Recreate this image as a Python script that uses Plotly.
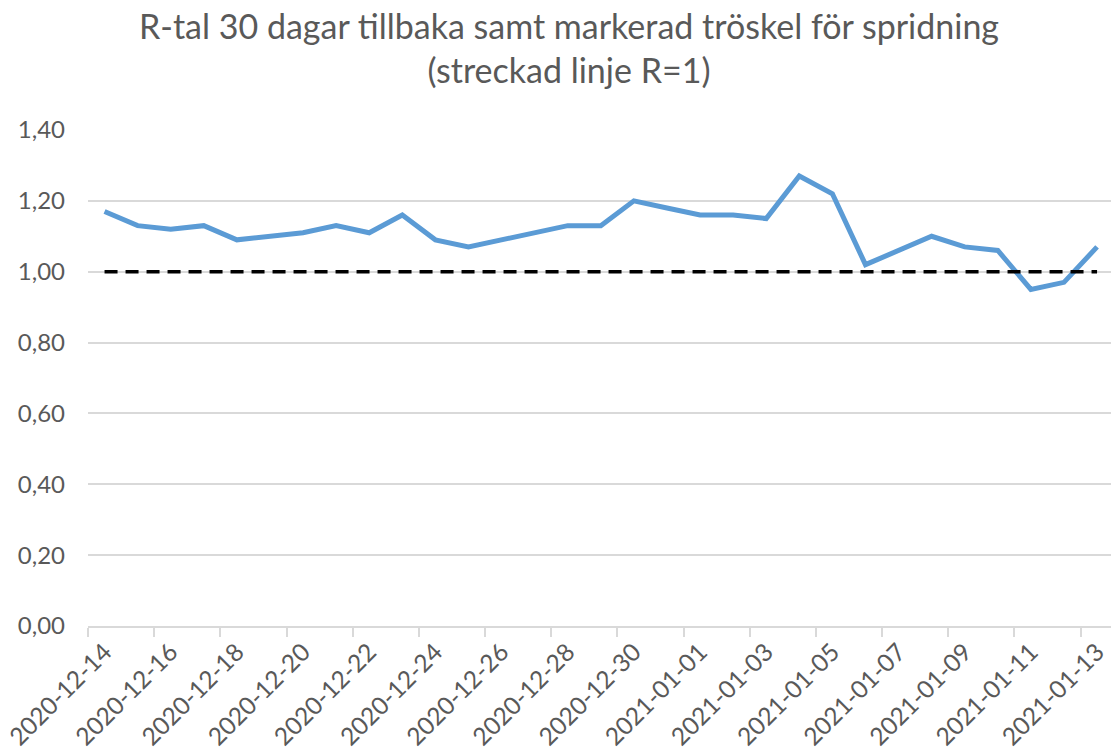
import plotly.graph_objects as go

dates = [
    "2020-12-14", "2020-12-15", "2020-12-16", "2020-12-17", "2020-12-18", "2020-12-19",
    "2020-12-20", "2020-12-21", "2020-12-22", "2020-12-23", "2020-12-24", "2020-12-25",
    "2020-12-26", "2020-12-27", "2020-12-28", "2020-12-29", "2020-12-30", "2020-12-31",
    "2021-01-01", "2021-01-02", "2021-01-03", "2021-01-04", "2021-01-05", "2021-01-06",
    "2021-01-07", "2021-01-08", "2021-01-09", "2021-01-10", "2021-01-11", "2021-01-12",
    "2021-01-13",
]
r_values = [
    1.17, 1.13, 1.12, 1.13, 1.09, 1.10, 1.11, 1.13, 1.11, 1.16, 1.09, 1.07,
    1.09, 1.11, 1.13, 1.13, 1.20, 1.18, 1.16, 1.16, 1.15, 1.27, 1.22, 1.02,
    1.06, 1.10, 1.07, 1.06, 0.95, 0.97, 1.07,
]
threshold = [1.0] * len(dates)
y_ticks = [0.0, 0.2, 0.4, 0.6, 0.8, 1.0, 1.2, 1.4]
title_text = "R-tal 30 dagar tillbaka samt markerad tröskel för spridning<br>(streckad linje R=1)"

TXT = "#595959"
GRID = "#d9d9d9"
FONT = "Lato"

fig = go.Figure()
fig.add_trace(go.Scatter(
    x=dates, y=r_values, mode="lines",
    line=dict(color="#5b9bd5", width=5),
    hoverinfo="skip", showlegend=False,
))
fig.add_trace(go.Scatter(
    x=dates, y=threshold, mode="lines",
    line=dict(color="#000000", width=3.5, dash="13px,8px"),
    hoverinfo="skip", showlegend=False,
))

W, H = 1111, 753
left, right_px = 87.5, 1111
top, bottom = 130, 626
cat_w = 33.1
x_end = -0.5 + (right_px - left) / cat_w
plot_w = right_px - left
plot_h = bottom - top

fig.update_layout(
    width=W, height=H,
    margin=dict(l=left, r=0, t=top, b=H - bottom, autoexpand=False),
    paper_bgcolor="white", plot_bgcolor="white",
    separators=", ",
    font=dict(family=FONT, color=TXT, size=24),
    xaxis=dict(
        type="category",
        range=[-0.5, x_end],
        tickmode="linear", tick0=0, dtick=2,
        tickson="boundaries",
        ticks="outside", ticklen=9, tickwidth=2, tickcolor=GRID,
        showline=True, linecolor=GRID, linewidth=2,
        showgrid=False, zeroline=False,
        tickangle=-45, automargin=False,
        tickfont=dict(family=FONT, size=24.5, color=TXT),
    ),
    yaxis=dict(
        range=[0, 1.4],
        tickvals=y_ticks,
        tickformat=".2f",
        showgrid=True, gridcolor=GRID, gridwidth=2,
        zeroline=False, showline=False,
        ticks="", ticklabelstandoff=22, automargin=False,
        tickfont=dict(family=FONT, size=24, color=TXT),
    ),
    annotations=[dict(
        text=title_text,
        xref="paper", yref="paper",
        x=(569 - left) / plot_w, y=(bottom - 3) / plot_h,
        xanchor="center", yanchor="top",
        showarrow=False, align="center",
        font=dict(family=FONT, size=34, color=TXT),
    )],
)

fig.write_html(
    "out.html",
    config={"displayModeBar": False, "staticPlot": True},
    post_script="document.body.style.margin='0';document.body.style.overflow='hidden';",
)
